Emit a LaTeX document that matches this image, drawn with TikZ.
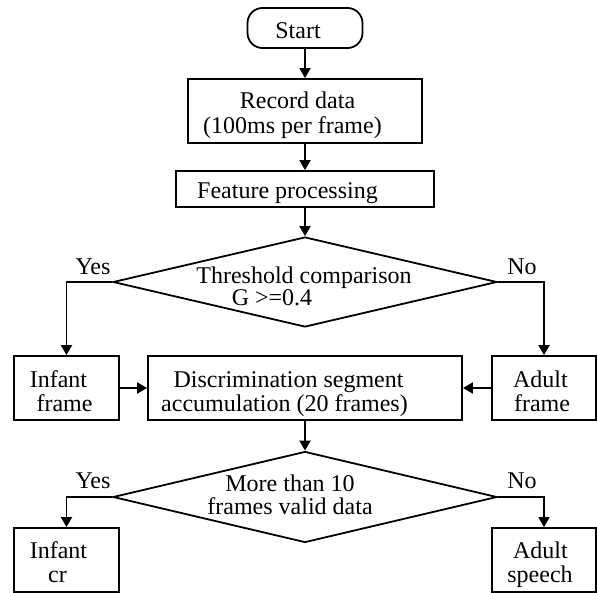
\documentclass[tikz,border=0pt]{standalone}
\usepackage{fontspec}
\setmainfont{Liberation Serif}
\usetikzlibrary{shapes.geometric,arrows.meta}
\begin{document}
\begin{tikzpicture}[x=1pt,y=-1pt,
  every node/.style={font=\fontsize{24}{25}\selectfont},
  box/.style={draw,line width=1.8pt,inner sep=0pt},
  dia/.style={draw,diamond,line width=1.8pt,inner sep=0pt,minimum width=384pt},
  arr/.style={line width=1.8pt,-{Triangle[length=10pt,width=11pt]}},
  txt/.style={anchor=base,inner sep=0pt}]
\useasboundingbox (0,0) rectangle (597,592);
% shapes
\node[box,rounded corners=15pt,minimum width=115pt,minimum height=40pt] (start) at (305,28) {};
\node[box,minimum width=234pt,minimum height=64pt] (record) at (305,111) {};
\node[box,minimum width=258pt,minimum height=36pt] (feature) at (305,189) {};
\node[dia,minimum height=90pt] (dia1) at (305,282) {};
\node[box,minimum width=105pt,minimum height=64pt] (infant) at (66.5,388) {};
\node[box,minimum width=314pt,minimum height=64pt] (disc) at (305,388) {};
\node[box,minimum width=104pt,minimum height=64pt] (adult) at (544,388) {};
\node[dia,minimum height=91pt] (dia2) at (305,497) {};
\node[box,minimum width=105pt,minimum height=64pt] (infantcr) at (66.5,560) {};
\node[box,minimum width=104pt,minimum height=64pt] (adultsp) at (544,560) {};
% texts
\node[txt] (tstart) at (298,38) {Start};
\node[txt] (trec1) at (297.5,108) {Record data};
\node[txt] (trec2) at (292.5,133) {(100ms per frame)};
\node[txt] (tfeat) at (287.5,198) {Feature processing};
\node[txt] (td11) at (304,283) {Threshold comparison};
\node[txt] (td12) at (272,305) {G >=0.4};
\node[txt] (tinf1) at (58.5,387) {Infant};
\node[txt] (tinf2) at (64.5,411) {frame};
\node[txt] (tdisc1) at (288.5,387) {Discrimination segment};
\node[txt] (tdisc2) at (284.5,411) {accumulation (20 frames)};
\node[txt] (tad1) at (540.5,387) {Adult};
\node[txt] (tad2) at (542,411) {frame};
\node[txt] (td21) at (290,491) {More than 10};
\node[txt] (td22) at (290,514) {frames valid data};
\node[txt] (tic1) at (58.5,558) {Infant};
\node[txt] (tic2) at (57.5,582) {cr};
\node[txt] (tas1) at (540.5,558) {Adult};
\node[txt] (tas2) at (540,582) {speech};
% branch labels
\node[txt] (yes1) at (93,274) {Yes};
\node[txt] (no1) at (522,274) {No};
\node[txt] (yes2) at (93,488) {Yes};
\node[txt] (no2) at (522,488) {No};
% connectors
\draw[arr] (start) -- (record);
\draw[arr] (record) -- (feature);
\draw[arr] (feature) -- (dia1);
\draw[arr] (dia1.west) -| (infant.north);
\draw[arr] (dia1.east) -| (adult.north);
\draw[arr] (infant) -- (disc);
\draw[arr] (adult) -- (disc);
\draw[arr] (disc) -- (dia2);
\draw[arr] (dia2.west) -| (infantcr.north);
\draw[arr] (dia2.east) -| (adultsp.north);
\end{tikzpicture}
\end{document}
